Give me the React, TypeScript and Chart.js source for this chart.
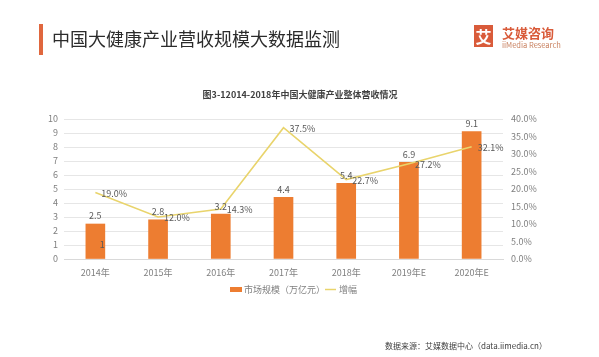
import React, { useEffect, useRef } from "react";
import { Chart, registerables } from "chart.js";

Chart.register(...registerables);

const categories = ["2014年", "2015年", "2016年", "2017年", "2018年", "2019年E", "2020年E"];
const marketSize = [2.5, 2.8, 3.2, 4.4, 5.4, 6.9, 9.1];
const growth = [19.0, 12.0, 14.3, 37.5, 22.7, 27.2, 32.1];
const leftTicks = [0, 10, 1];
const rightTicks = [0, 40, 5];
const barLabel = "市场规模（万亿元）";
const lineLabel = "增幅";
const headerTitle = "中国大健康产业营收规模大数据监测";
const chartTitle = "图3-12014-2018年中国大健康产业整体营收情况";
const sourceText = "数据来源：艾媒数据中心（data.iimedia.cn）";
const logoCn = "艾媒咨询";
const logoEn = "iiMedia Research";
const strayIndex = 0;
const strayValue = 1;
const strayText = "1";

const FONT = '"Noto Sans CJK SC", "Noto Sans", sans-serif';
const ORANGE = "#ED7D31";
const YELLOW = "#E9D46C";
const BRAND = "#D95B3A";

const decorPlugin = {
  id: "decor",
  afterDatasetsDraw(chart: any) {
    const ctx = chart.ctx;
    ctx.save();
    // bar value labels
    const barMeta = chart.getDatasetMeta(0);
    ctx.font = `9px ${FONT}`;
    ctx.fillStyle = "#595959";
    ctx.textAlign = "center";
    ctx.textBaseline = "middle";
    barMeta.data.forEach((el: any, i: number) => {
      ctx.fillText(marketSize[i].toFixed(1), el.x, el.y - 8);
    });
    // stray label inside first bar
    const yScale = chart.scales.y;
    const sEl = barMeta.data[strayIndex];
    ctx.fillText(strayText, sEl.x + 7, yScale.getPixelForValue(strayValue));
    // line labels
    const lineMeta = chart.getDatasetMeta(1);
    ctx.textAlign = "left";
    lineMeta.data.forEach((el: any, i: number) => {
      ctx.fillText(growth[i].toFixed(1) + "%", el.x + 6, el.y + 1);
    });
    ctx.restore();
  },
  afterDraw(chart: any) {
    const ctx = chart.ctx;
    ctx.save();
    // header bar + title
    ctx.fillStyle = "#E0673E";
    ctx.fillRect(39, 24, 4, 31);
    ctx.fillStyle = "#2b2b2b";
    ctx.font = `18px ${FONT}`;
    ctx.textAlign = "left";
    ctx.textBaseline = "middle";
    ctx.fillText(headerTitle, 52, 39);
    // logo
    ctx.fillStyle = BRAND;
    ctx.fillRect(474, 25, 19, 22);
    ctx.fillStyle = "#ffffff";
    ctx.font = `bold 16px ${FONT}`;
    ctx.textAlign = "center";
    ctx.fillText("艾", 483.5, 36.5);
    ctx.fillStyle = BRAND;
    ctx.textAlign = "left";
    ctx.font = `bold 13px ${FONT}`;
    ctx.fillText(logoCn, 502, 33);
    ctx.fillStyle = "#c9805f";
    ctx.font = `7.5px ${FONT}`;
    ctx.fillText(logoEn, 502, 45.5);
    // chart title
    ctx.fillStyle = "#404040";
    ctx.font = `bold 9px ${FONT}`;
    ctx.textAlign = "center";
    ctx.fillText(chartTitle, 300, 95);
    // legend
    const ds = chart.data.datasets;
    ctx.textAlign = "left";
    ctx.font = `9px ${FONT}`;
    ctx.fillStyle = ds[0].backgroundColor;
    ctx.fillRect(230, 287, 12, 5);
    ctx.fillStyle = "#7f7f7f";
    ctx.fillText(ds[0].label, 244, 289.5);
    ctx.strokeStyle = ds[1].borderColor;
    ctx.lineWidth = 1.5;
    ctx.beginPath();
    ctx.moveTo(325, 289.5);
    ctx.lineTo(336, 289.5);
    ctx.stroke();
    ctx.fillText(ds[1].label, 339, 289.5);
    // source
    ctx.fillStyle = "#404040";
    ctx.font = `8px ${FONT}`;
    ctx.fillText(sourceText, 385, 346);
    ctx.restore();
  },
};

export default function App() {
  const ref = useRef<HTMLCanvasElement>(null);
  useEffect(() => {
    if (!ref.current) return;
    const chart = new Chart(ref.current, {
      type: "bar",
      data: {
        labels: categories,
        datasets: [
          {
            type: "bar",
            label: barLabel,
            data: marketSize,
            backgroundColor: ORANGE,
            barThickness: 19,
            yAxisID: "y",
            order: 2,
          },
          {
            type: "line",
            label: lineLabel,
            data: growth,
            borderColor: YELLOW,
            backgroundColor: YELLOW,
            borderWidth: 1.6,
            pointRadius: 0,
            tension: 0,
            yAxisID: "y1",
            order: 1,
          },
        ] as any,
      },
      options: {
        animation: false,
        responsive: false,
        maintainAspectRatio: false,
        layout: { padding: { left: 44, right: 46, top: 119, bottom: 76 } },
        plugins: {
          legend: { display: false },
          title: { display: false },
          tooltip: { enabled: false },
        },
        scales: {
          x: {
            grid: { display: false, drawTicks: false },
            border: { display: true, color: "#d9d9d9" },
            ticks: { color: "#7f7f7f", font: { size: 9, family: FONT }, padding: 8, maxRotation: 0 },
            afterFit: (s: any) => { s.height = 22; },
          },
          y: {
            position: "left",
            min: leftTicks[0],
            max: leftTicks[1],
            ticks: { stepSize: leftTicks[2], color: "#7f7f7f", font: { size: 9, family: FONT }, padding: 6 },
            grid: { color: "#e6e6e6", drawTicks: false },
            border: { display: false },
            afterFit: (s: any) => { s.width = 20; },
          },
          y1: {
            position: "right",
            min: rightTicks[0],
            max: rightTicks[1],
            ticks: {
              stepSize: rightTicks[2],
              color: "#7f7f7f",
              font: { size: 9, family: FONT },
              padding: 8,
              callback: (v: any) => Number(v).toFixed(1) + "%",
            },
            grid: { display: false, drawTicks: false },
            border: { display: false },
            afterFit: (s: any) => { s.width = 50; },
          },
        },
      } as any,
      plugins: [decorPlugin],
    });
    return () => chart.destroy();
  }, []);
  return (
    <div style={{ position: "absolute", left: 0, top: 0, width: 599, height: 357, background: "#fff" }}>
      <canvas ref={ref} width={599} height={357} style={{ width: 599, height: 357, display: "block" }} />
    </div>
  );
}
